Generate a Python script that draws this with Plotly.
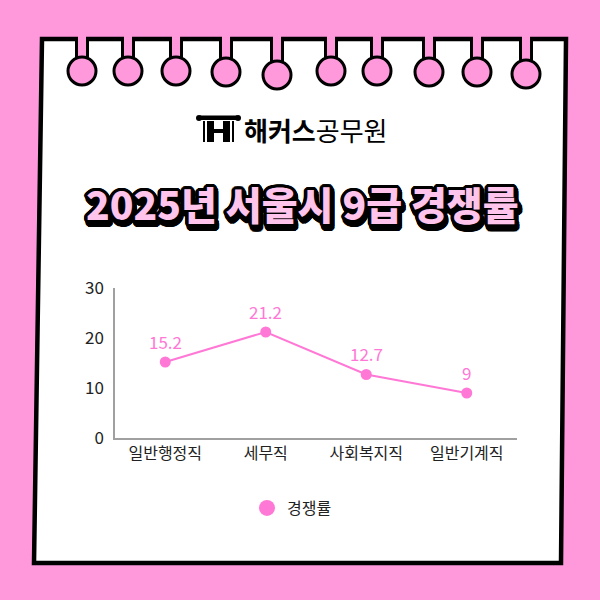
import math
import plotly.graph_objects as go

# ---- data ----
categories = ["일반행정직", "세무직", "사회복지직", "일반기계직"]
rates = [15.2, 21.2, 12.7, 9]
rate_labels = ["15.2", "21.2", "12.7", "9"]
series_name = "경쟁률"
y_ticks = [0, 10, 20, 30]
title_text = "2025년 서울시 9급 경쟁률"
brand_bold = "해커스"
brand_regular = "공무원"

# ---- style ----
BG = "#FF99DC"
LINE = "#FF78D6"
TITLE_FILL = "#FFC4EC"
FONT = "Noto Sans CJK KR"

W, H = 600, 600
L, R, T, B = 115, 517, 288, 438  # plot area in pixels
PW, PH = R - L, B - T


def px(x):
    return (x - L) / PW


def py(y):
    return (B - y) / PH


fig = go.Figure()

fig.add_trace(go.Scatter(
    x=categories, y=rates, mode="lines+markers",
    line=dict(color=LINE, width=2),
    marker=dict(color=LINE, size=11),
    showlegend=False, cliponaxis=False, hoverinfo="skip",
))
fig.add_trace(go.Scatter(
    x=[None], y=[None], mode="markers", name=series_name,
    marker=dict(color=LINE, size=16), showlegend=True,
))

shapes = []
# card (slightly skewed paper)
card = [(42, 39), (566, 39), (561, 563), (34, 563)]
path = "M " + " L ".join(f"{px(x)},{py(y)}" for x, y in card) + " Z"
shapes.append(dict(type="path", xref="paper", yref="paper", path=path,
                   fillcolor="white", line=dict(color="black", width=4.5), layer="below"))

# rings
ring_x = [82, 128, 176, 226, 277, 331, 377, 429, 477, 526]
ring_y = [71, 71, 71, 72, 75, 71, 71, 72, 72, 74]
rr = 14
for cx, cy in zip(ring_x, ring_y):
    shapes.append(dict(type="rect", xref="paper", yref="paper",
                       x0=px(cx - 4), x1=px(cx + 4), y0=py(30), y1=py(cy),
                       fillcolor=BG, line=dict(width=0)))
    for sx in (cx - 5.5, cx + 5.5):
        shapes.append(dict(type="line", xref="paper", yref="paper",
                           x0=px(sx), x1=px(sx), y0=py(37), y1=py(cy - rr + 3),
                           line=dict(color="black", width=3)))
    shapes.append(dict(type="circle", xref="paper", yref="paper",
                       x0=px(cx - rr), x1=px(cx + rr), y0=py(cy - rr), y1=py(cy + rr),
                       fillcolor=BG, line=dict(color="black", width=3)))

# logo icon
def rect(x0, y0, x1, y1):
    shapes.append(dict(type="rect", xref="paper", yref="paper",
                       x0=px(x0), x1=px(x1), y0=py(y0), y1=py(y1),
                       fillcolor="black", line=dict(width=0)))

rect(200, 115.5, 237, 120)
for cx in (199, 238):
    shapes.append(dict(type="circle", xref="paper", yref="paper",
                       x0=px(cx - 3), x1=px(cx + 3), y0=py(115), y1=py(121),
                       fillcolor="black", line=dict(width=0)))
rect(203, 121, 205, 142)
rect(207, 121, 214, 142)
rect(214, 129, 223, 133)
rect(223, 121, 230, 142)
rect(232, 121, 234, 142)

annotations = []
# data labels
for c, v, t in zip(categories, rates, rate_labels):
    annotations.append(dict(x=c, y=v, xref="x", yref="y", text=t, showarrow=False,
                            yshift=21, xanchor="center", yanchor="middle",
                            font=dict(family=FONT, size=17, color=LINE)))

# logo text
annotations.append(dict(xref="paper", yref="paper", x=px(242), y=py(129),
                        xanchor="left", yanchor="middle", showarrow=False,
                        text=f"<b>{brand_bold}</b>{brand_regular}",
                        font=dict(family=FONT, size=26, color="black")))

# title: outline + drop shadow via CSS text-shadow
shadow_parts = []
for sdx, sdy in [(0, 0), (1, 2), (1.5, 3.5)]:
    for k in range(16):
        a = 2 * math.pi * k / 16
        shadow_parts.append(f"{3.5 * math.cos(a) + sdx:.2f}px {3.5 * math.sin(a) + sdy:.2f}px 0 #000")
TS = 39
annotations.append(dict(xref="paper", yref="paper", x=px(302), y=py(203),
                        xanchor="center", yanchor="middle", showarrow=False,
                        text=title_text,
                        font=dict(family=FONT, size=TS, color=TITLE_FILL, weight=900,
                                  shadow=", ".join(shadow_parts))))

fig.update_layout(
    width=W, height=H,
    margin=dict(l=L, r=W - R, t=T, b=H - B, pad=0),
    paper_bgcolor=BG, plot_bgcolor="rgba(0,0,0,0)",
    font=dict(family=FONT, color="#222"),
    shapes=shapes, annotations=annotations,
    hovermode=False,
    xaxis=dict(type="category", categoryorder="array", categoryarray=categories,
               range=[-0.5, len(categories) - 0.5],
               showline=True, linecolor="#a0a0a0", linewidth=1.5,
               showgrid=False, zeroline=False, ticks="",
               tickfont=dict(size=16, color="#222", family=FONT)),
    yaxis=dict(range=[0, 30], tickvals=y_ticks, showline=True, linecolor="#a0a0a0",
               linewidth=1.5, showgrid=False, zeroline=False, ticks="",
               ticklabelstandoff=6,
               tickfont=dict(size=17, color="#222", family=FONT)),
    legend=dict(orientation="h", x=px(247), y=py(508), xanchor="left", yanchor="middle",
                font=dict(size=16, color="#222", family=FONT),
                bgcolor="rgba(0,0,0,0)"),
)

fig.write_html("out.html", config={"displayModeBar": False},
               post_script="document.body.style.margin='0';document.body.style.background='" + BG + "';")
